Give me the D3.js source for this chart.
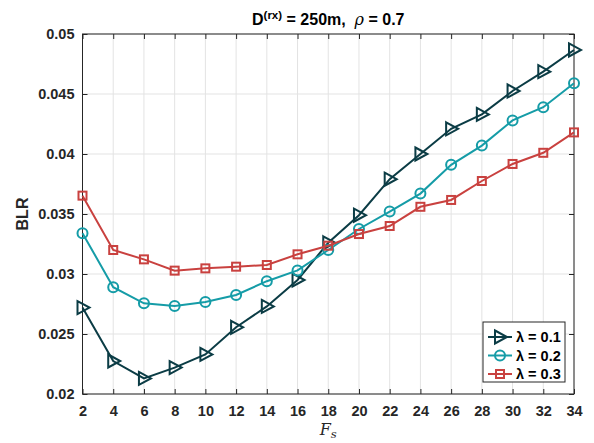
<!DOCTYPE html>
<html>
<head>
<meta charset="utf-8">
<script src="https://cdn.jsdelivr.net/npm/d3@7"></script>
<style>
  body { margin: 0; background: #fff; }
  text { font-family: "Liberation Sans", Arial, sans-serif; }
</style>
</head>
<body>
<script>
const fs = [2, 4, 6, 8, 10, 12, 14, 16, 18, 20, 22, 24, 26, 28, 30, 32, 34];
const blr01 = [0.0272, 0.02275, 0.0213, 0.0222, 0.0233, 0.02556, 0.0273, 0.0295, 0.0326, 0.0349, 0.0379, 0.0400, 0.0421, 0.0433, 0.04525, 0.04686, 0.04867];
const blr02 = [0.0334, 0.0289, 0.02756, 0.02733, 0.02767, 0.02825, 0.0294, 0.0303, 0.0320, 0.03375, 0.0352, 0.0367, 0.0391, 0.0407, 0.0428, 0.0439, 0.0459];
const blr03 = [0.03653, 0.0320, 0.03122, 0.03028, 0.03047, 0.03061, 0.03075, 0.03164, 0.03236, 0.03333, 0.0340, 0.0356, 0.03617, 0.03775, 0.03917, 0.0401, 0.0418];
const yTicks = [0.02, 0.025, 0.03, 0.035, 0.04, 0.045, 0.05];
const labels = ["λ = 0.1", "λ = 0.2", "λ = 0.3"];

const series = [
  { name: labels[0], values: blr01, color: "#0b3c45", marker: "tri" },
  { name: labels[1], values: blr02, color: "#159ca7", marker: "circle" },
  { name: labels[2], values: blr03, color: "#c9413f", marker: "square" }
];

const width = 594, height = 443;
const margin = { top: 34, right: 20, bottom: 49, left: 82.5 };
const axisColor = "#262626";

const svg = d3.select("body").append("svg")
  .attr("width", width)
  .attr("height", height);

const x = d3.scaleLinear().domain([2, 34]).range([margin.left, width - margin.right]);
const y = d3.scaleLinear().domain([0.02, 0.05]).range([height - margin.bottom, margin.top]);

// grid
const grid = svg.append("g");
grid.selectAll(".gx").data(fs).enter().append("line")
  .attr("x1", d => x(d)).attr("x2", d => x(d))
  .attr("y1", y(0.02)).attr("y2", y(0.05))
  .attr("stroke", "#e3e3e3").attr("stroke-width", 1);
grid.selectAll(".gy").data(yTicks).enter().append("line")
  .attr("x1", x(2)).attr("x2", x(34))
  .attr("y1", d => y(d)).attr("y2", d => y(d))
  .attr("stroke", "#e3e3e3").attr("stroke-width", 1);

// axes
const tickStyle = g => {
  g.select(".domain").remove();
  g.selectAll(".tick line").attr("stroke", axisColor);
  g.selectAll(".tick text")
    .attr("fill", axisColor)
    .style("font-size", "14.5px")
    .style("font-weight", "bold");
};

svg.append("g")
  .attr("transform", `translate(0,${y(0.02)})`)
  .call(d3.axisBottom(x).tickValues(fs).tickFormat(d3.format("d")).tickSizeInner(-5).tickPadding(12))
  .call(tickStyle);
svg.append("g")
  .attr("transform", `translate(0,${y(0.05)})`)
  .call(d3.axisTop(x).tickValues(fs).tickFormat("").tickSizeInner(-5))
  .call(tickStyle);
svg.append("g")
  .attr("transform", `translate(${x(2)},0)`)
  .call(d3.axisLeft(y).tickValues(yTicks).tickFormat(d => d3.format("")(+d.toFixed(3))).tickSizeInner(-5).tickPadding(8))
  .call(tickStyle);
svg.append("g")
  .attr("transform", `translate(${x(34)},0)`)
  .call(d3.axisRight(y).tickValues(yTicks).tickFormat("").tickSizeInner(-5))
  .call(tickStyle);

svg.append("rect")
  .attr("x", x(2)).attr("y", y(0.05))
  .attr("width", x(34) - x(2)).attr("height", y(0.02) - y(0.05))
  .attr("fill", "none").attr("stroke", axisColor).attr("stroke-width", 1);

// markers
function drawMarker(g, type, cx, cy, color) {
  if (type === "tri") {
    g.append("path")
      .attr("d", `M${cx - 5},${cy - 6.5}L${cx + 7},${cy}L${cx - 5},${cy + 6.5}Z`)
      .attr("fill", "none").attr("stroke", color).attr("stroke-width", 2);
  } else if (type === "circle") {
    g.append("circle").attr("cx", cx).attr("cy", cy).attr("r", 5)
      .attr("fill", "none").attr("stroke", color).attr("stroke-width", 2);
  } else {
    g.append("rect").attr("x", cx - 4).attr("y", cy - 4).attr("width", 8).attr("height", 8)
      .attr("fill", "none").attr("stroke", color).attr("stroke-width", 2);
  }
}

const line = d3.line().x((d, i) => x(fs[i])).y(d => y(d));

series.forEach(s => {
  const g = svg.append("g");
  g.append("path")
    .datum(s.values)
    .attr("d", line)
    .attr("fill", "none")
    .attr("stroke", s.color)
    .attr("stroke-width", 2);
  s.values.forEach((v, i) => drawMarker(g, s.marker, x(fs[i]), y(v), s.color));
});

// title
const title = svg.append("text")
  .attr("x", (x(2) + x(34)) / 2)
  .attr("y", 25)
  .attr("text-anchor", "middle")
  .attr("fill", "#000")
  .style("font-size", "16px")
  .style("font-weight", "bold");
title.append("tspan").text("D");
title.append("tspan").attr("dy", -6).style("font-size", "11.5px").text("(rx)");
title.append("tspan").attr("dy", 6).text(" = 250m,\u00a0\u00a0");
title.append("tspan").style("font-style", "italic").style("font-weight", "normal")
  .style("font-family", "'DejaVu Serif', serif").text("ρ");
title.append("tspan").text(" = 0.7");

// axis labels
svg.append("text")
  .attr("transform", `translate(28,${(y(0.02) + y(0.05)) / 2}) rotate(-90)`)
  .attr("text-anchor", "middle")
  .attr("fill", axisColor)
  .style("font-size", "16px")
  .style("font-weight", "bold")
  .text("BLR");

const xl = svg.append("text")
  .attr("x", (x(2) + x(34)) / 2)
  .attr("y", 435)
  .attr("text-anchor", "middle")
  .attr("fill", axisColor)
  .style("font-family", "'DejaVu Serif', 'Liberation Serif', serif")
  .style("font-style", "italic")
  .style("font-size", "16px");
xl.append("tspan").text("F");
xl.append("tspan").attr("dy", 3).style("font-size", "11.5px").text("s");

// legend
const lg = svg.append("g").attr("transform", "translate(483,322)");
lg.append("rect").attr("width", 82).attr("height", 60)
  .attr("fill", "#fff").attr("stroke", axisColor).attr("stroke-width", 1);
series.forEach((s, i) => {
  const cy = 15 + i * 18.5;
  lg.append("line").attr("x1", 5).attr("x2", 29).attr("y1", cy).attr("y2", cy)
    .attr("stroke", s.color).attr("stroke-width", 2);
  drawMarker(lg, s.marker, 17, cy, s.color);
  lg.append("text").attr("x", 33).attr("y", cy + 5)
    .attr("fill", "#000")
    .style("font-size", "14.5px").style("font-weight", "bold")
    .text(s.name);
});
</script>
</body>
</html>
